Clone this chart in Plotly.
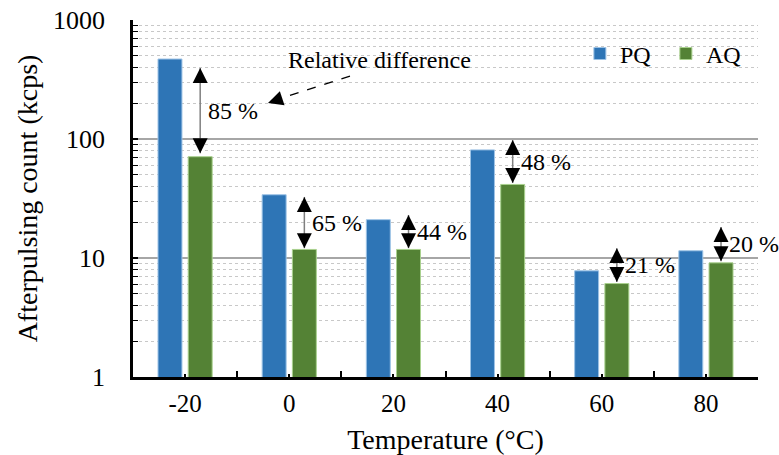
import math
import plotly.graph_objects as go

# ---- data ----
temperatures = ["-20", "0", "20", "40", "60", "80"]
pq_kcps = [470, 34, 21, 81, 7.8, 11.5]
aq_kcps = [71, 11.8, 11.8, 41.5, 6.1, 9.1]
rel_diff_labels = ["85 %", "65 %", "44 %", "48 %", "21 %", "20 %"]
# ends of the double-headed arrows (kcps)
arrow_top = [395, 32.6, 23, 98, 12.1, 18.2]
arrow_bottom = [76, 12.1, 12.1, 42.7, 6.3, 9.4]

BLUE = "#2E75B6"
GREEN = "#548235"
FONT = "Liberation Serif"

xpos = list(range(len(temperatures)))
bar_w = 0.23
half_gap = 0.03

fig = go.Figure()
fig.add_trace(go.Bar(
    x=xpos, y=pq_kcps, name="PQ", width=bar_w, offset=-(bar_w + half_gap),
    marker=dict(color=BLUE, line=dict(color="#9DC3E6", width=1)),
))
fig.add_trace(go.Bar(
    x=xpos, y=aq_kcps, name="AQ", width=bar_w, offset=half_gap,
    marker=dict(color=GREEN, line=dict(color="#A9D18E", width=1)),
))

aq_center = [x + half_gap + bar_w / 2 for x in xpos]

HEAD = dict(showarrow=True, arrowhead=2, arrowsize=2.3, arrowwidth=1.3, arrowcolor="black")

annotations = []
for i, xc in enumerate(aq_center):
    # gray shaft
    fig.add_trace(go.Scatter(
        x=[xc, xc], y=[arrow_top[i], arrow_bottom[i]], mode="lines",
        line=dict(color="#7F7F7F", width=1.5), showlegend=False, hoverinfo="skip",
    ))
    # black heads
    annotations.append(dict(x=xc, y=math.log10(arrow_top[i]), xref="x", yref="y",
                            text="", ax=0, ay=13, **HEAD))
    annotations.append(dict(x=xc, y=math.log10(arrow_bottom[i]), xref="x", yref="y",
                            text="", ax=0, ay=-13, **HEAD))
    mid = (math.log10(arrow_top[i]) + math.log10(arrow_bottom[i])) / 2
    annotations.append(dict(
        x=xc, y=mid, xref="x", yref="y", text=rel_diff_labels[i],
        showarrow=False, xanchor="left", yanchor="middle", xshift=6,
        font=dict(family=FONT, size=24, color="black"),
    ))

# "Relative difference" label with dashed pointer
fig.add_trace(go.Scatter(
    x=[1.583, 0.86], y=[338, 212], mode="lines",
    line=dict(color="black", width=1.3, dash="dash"),
    showlegend=False, hoverinfo="skip",
))
annotations.append(dict(x=0.796, y=math.log10(201), xref="x", yref="y", text="",
                        ax=12.4, ay=-4.1, **HEAD))
annotations.append(dict(
    x=1.87, y=2.664, xref="x", yref="y", text="Relative difference",
    showarrow=False, xanchor="center", yanchor="middle",
    font=dict(family=FONT, size=24, color="black"),
))

fig.update_layout(
    width=779, height=455,
    margin=dict(l=133, r=21, t=20, b=78, autoexpand=False),
    plot_bgcolor="white", paper_bgcolor="white",
    barmode="overlay",
    font=dict(family=FONT, color="black"),
    annotations=annotations,
    legend=dict(
        orientation="h", x=0.715, y=0.905, xanchor="left", yanchor="middle",
        font=dict(family=FONT, size=24), bgcolor="rgba(0,0,0,0)",
        entrywidth=41, entrywidthmode="pixels",
    ),
    showlegend=True,
)

fig.update_xaxes(
    range=[-0.5, 5.5], tickmode="array", tickvals=xpos, ticktext=temperatures,
    ticks="inside", ticklen=3, tickcolor="black", tickwidth=1.5,
    showline=True, linecolor="black", linewidth=2.5, showgrid=False, zeroline=False,
    tickfont=dict(family=FONT, size=25, color="black"),
    minor=dict(tick0=0.5, dtick=1, ticks="inside", ticklen=6, tickcolor="black", tickwidth=1.5),
    title=dict(text="Temperature (°C)", font=dict(family=FONT, size=28, color="black"), standoff=14),
    ticklabelstandoff=2,
)
fig.update_yaxes(
    type="log", range=[0, 3], dtick=1, exponentformat="none",
    ticks="inside", ticklen=5, tickcolor="black", tickwidth=1.5,
    showline=True, linecolor="black", linewidth=2.5,
    showgrid=True, gridcolor="#A6A6A6", gridwidth=1.5, zeroline=False,
    tickfont=dict(family=FONT, size=26, color="black"),
    minor=dict(dtick="D1", ticks="inside", ticklen=5, tickcolor="black", tickwidth=1.2,
               showgrid=True, gridcolor="#C8C8C8", gridwidth=1, griddash="dot"),
    title=dict(text="Afterpulsing count (kcps)", font=dict(family=FONT, size=28, color="black"), standoff=8),
    ticklabelstandoff=20,
)

fig.write_html(
    "out.html",
    config={"displayModeBar": False},
    post_script="document.body.style.margin='0';document.body.style.overflow='hidden';",
)
